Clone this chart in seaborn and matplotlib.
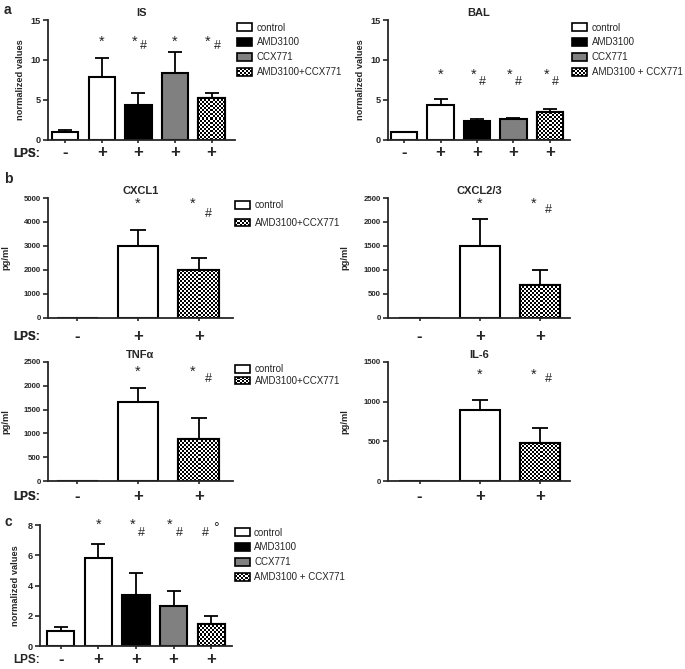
import numpy as np
import pandas as pd
import matplotlib
matplotlib.use('Agg')
import matplotlib.pyplot as plt
from matplotlib.patches import Patch, Rectangle
from matplotlib.legend_handler import HandlerBase
import seaborn as sns

sns.set_style('ticks')
plt.rcParams['font.family'] = ['Liberation Sans', 'DejaVu Sans']

# --- data ---
lps5 = ['-', '+', '+', '+', '+']
lps3 = ['-', '+', '+']
styles5 = ['control', 'control', 'AMD3100', 'CCX771', 'combo']
styles3 = ['control', 'control', 'combo']

is_mean = [1.0, 7.9, 4.4, 8.4, 5.3]
is_err = [0.2, 2.3, 1.5, 2.6, 0.6]
is_sig = ['', '*', '*#', '*', '*#']

bal_mean = [1.0, 4.4, 2.35, 2.55, 3.5]
bal_err = [0.0, 0.75, 0.3, 0.18, 0.4]
bal_sig = ['', '*', '*#', '*#', '*#']

cxcl1_mean = [0, 3000, 2000]
cxcl1_err = [0, 650, 480]
cxcl23_mean = [0, 1500, 690]
cxcl23_err = [0, 570, 305]
tnf_mean = [0, 1660, 890]
tnf_err = [0, 290, 440]
il6_mean = [0, 900, 475]
il6_err = [0, 125, 190]
b_sig = ['', '*', '*#']

c_mean = [1.0, 5.85, 3.4, 2.65, 1.5]
c_err = [0.25, 0.93, 1.43, 1.02, 0.47]
c_sig = ['', '*', '*#', '*#', '#°']

leg4_plain = ['control', 'AMD3100', 'CCX771', 'AMD3100+CCX771']
leg4_space = ['control', 'AMD3100', 'CCX771', 'AMD3100 + CCX771']
leg2 = ['control', 'AMD3100+CCX771']

fills = {'control': 'white', 'AMD3100': 'black', 'CCX771': '#808080', 'combo': 'white'}


class CheckerHandler(HandlerBase):
    def create_artists(self, legend, orig_handle, xdescent, ydescent,
                       width, height, fontsize, trans):
        arts = []
        nx, ny = 7, 4
        cw, ch = width / nx, height / ny
        for i in range(nx):
            for j in range(ny):
                if (i + j) % 2 == 0:
                    arts.append(Rectangle((-xdescent + i * cw, -ydescent + j * ch), cw, ch,
                                          facecolor='black', edgecolor='none', transform=trans))
        arts.append(Rectangle((-xdescent, -ydescent), width, height, facecolor='none',
                              edgecolor='black', lw=1.2, transform=trans))
        return arts


def checker(ax, patch, cell=2):
    x0, y0 = patch.get_x(), patch.get_y()
    w, h = patch.get_width(), patch.get_height()
    if h <= 0:
        return
    (px0, py0), (px1, py1) = ax.transData.transform([(x0, y0), (x0 + w, y0 + h)])
    nx = max(int(round(abs(px1 - px0) / cell)), 1)
    ny = max(int(round(abs(py1 - py0) / cell)), 1)
    board = np.indices((ny, nx)).sum(axis=0) % 2
    z = patch.get_zorder()
    im = ax.imshow(board, cmap='gray', vmin=0, vmax=1, extent=(x0, x0 + w, y0, y0 + h),
                   aspect='auto', interpolation='nearest', zorder=z + 0.1)
    im.set_clip_path(patch)
    ax.add_patch(Rectangle((x0, y0), w, h, fill=False, edgecolor='black', lw=1.5, zorder=z + 0.2))


def panel(ax, mean, err, styles, lps, sig, title, ylim, yticks, ylabel, xlim, width,
          star_y, hash_y, ylab_x, lps_dy, tick_size, cap, xpad, legend=None, leg_space=0.45):
    n = len(mean)
    sns.barplot(x=list(range(n)), y=mean, ax=ax, width=width, color='white',
                edgecolor='black', linewidth=1.5, errorbar=None)
    ax.set_xlim(*xlim)
    ax.set_ylim(*ylim)
    ax.set_yticks(yticks)
    ax.set_yticklabels([str(t) for t in yticks], fontsize=tick_size, fontweight='bold')
    ax.set_xticks(range(n))
    ax.set_xticklabels(lps, fontsize=12, fontweight='bold')
    ax.tick_params(axis='x', length=2.5, width=1.2, pad=xpad)
    ax.tick_params(axis='y', length=3.5, width=1.2, pad=1.5)
    ax.set_xlabel('')
    ax.set_ylabel(ylabel, fontsize=6.7, fontweight='bold')
    ax.yaxis.set_label_coords(ylab_x, 0.5)
    ax.set_title(title, fontsize=8, fontweight='bold', pad=3)
    sns.despine(ax=ax)
    for s in ['left', 'bottom']:
        ax.spines[s].set_linewidth(1.3)

    for p, st in zip(ax.patches[:n], styles):
        p.set_facecolor(fills[st])
    for p, st in zip(list(ax.patches[:n]), styles):
        if st == 'combo':
            checker(ax, p)

    idx = [i for i in range(n) if err[i] > 0]
    ax.errorbar(idx, [mean[i] for i in idx],
                yerr=[[0] * len(idx), [err[i] for i in idx]],
                fmt='none', ecolor='black', elinewidth=1.3, capsize=cap, capthick=1.3, zorder=3)

    for i, s in enumerate(sig):
        if s == '*':
            ax.text(i, star_y, '*', ha='center', va='center', fontsize=10.5)
        elif s == '*#':
            ax.text(i - 0.1, star_y, '*', ha='center', va='center', fontsize=10.5)
            ax.text(i + 0.15, hash_y, '#', ha='center', va='center', fontsize=9)
        elif s == '#°':
            ax.text(i - 0.15, hash_y, '#', ha='center', va='center', fontsize=9)
            ax.text(i + 0.12, star_y - (star_y - hash_y) * 0.3, '°', ha='center', va='center', fontsize=10)

    ax.annotate('LPS:', xy=(40 / 685, 0), xycoords=('figure fraction', 'axes fraction'),
                xytext=(0, -lps_dy * 0.72), textcoords='offset points',
                ha='right', va='center', fontsize=8.5, fontweight='bold')

    if legend is not None:
        handles = []
        hmap = {}
        for lab, st in legend:
            if st == 'combo':
                h = Patch(facecolor='white', edgecolor='black', label=lab)
                hmap[h] = CheckerHandler()
            else:
                h = Patch(facecolor=fills[st], edgecolor='black', linewidth=1.2, label=lab)
            handles.append(h)
        ax.legend(handles=handles, handler_map=hmap, loc='upper left', bbox_to_anchor=(1.0, 1.0),
                  frameon=False, fontsize=7, borderaxespad=0, borderpad=0.25,
                  handlelength=1.55, handleheight=0.85, handletextpad=0.45,
                  labelspacing=leg_space)


fig = plt.figure(figsize=(6.85, 6.69), dpi=100)

ax_is = fig.add_axes([0.070, 0.791, 0.273, 0.179])
ax_bal = fig.add_axes([0.566, 0.791, 0.266, 0.179])
ax_c1 = fig.add_axes([0.070, 0.525, 0.270, 0.179])
ax_c23 = fig.add_axes([0.566, 0.525, 0.266, 0.179])
ax_tnf = fig.add_axes([0.070, 0.281, 0.270, 0.178])
ax_il6 = fig.add_axes([0.566, 0.281, 0.266, 0.178])
ax_c = fig.add_axes([0.058, 0.034, 0.281, 0.181])

leg_a = list(zip(leg4_plain, ['control', 'AMD3100', 'CCX771', 'combo']))
leg_a2 = list(zip(leg4_space, ['control', 'AMD3100', 'CCX771', 'combo']))
leg_b = list(zip(leg2, ['control', 'combo']))

panel(ax_is, is_mean, is_err, styles5, lps5, is_sig, 'IS', (0, 15), [0, 5, 10, 15],
      'normalized values', (-0.47, 4.64), 0.72, 12.3, 11.7, -0.123, 14, 6.6, 4.7, 1.5,
      legend=leg_a, leg_space=0.5)
panel(ax_bal, bal_mean, bal_err, styles5, lps5, bal_sig, 'BAL', (0, 15), [0, 5, 10, 15],
      'normalized values', (-0.45, 4.55), 0.72, 8.1, 7.3, -0.126, 14, 6.6, 4.7, 1.5,
      legend=leg_a2, leg_space=0.5)
panel(ax_c1, cxcl1_mean, cxcl1_err, styles3, lps3, b_sig, 'CXCL1', (0, 5000),
      [0, 1000, 2000, 3000, 4000, 5000], 'pg/ml', (-0.48, 2.56), 0.67, 4760, 4350,
      -0.205, 19, 5.6, 6, 5.5, legend=leg_b, leg_space=0.75)
panel(ax_c23, cxcl23_mean, cxcl23_err, styles3, lps3, b_sig, 'CXCL2/3', (0, 2500),
      [0, 500, 1000, 1500, 2000, 2500], 'pg/ml', (-0.53, 2.5), 0.67, 2380, 2240,
      -0.209, 19, 5.6, 6, 5.5)
panel(ax_tnf, tnf_mean, tnf_err, styles3, lps3, b_sig, 'TNFα', (0, 2500),
      [0, 500, 1000, 1500, 2000, 2500], 'pg/ml', (-0.48, 2.56), 0.67, 2290, 2150,
      -0.205, 16, 5.6, 6, 3.5, legend=leg_b, leg_space=0.15)
panel(ax_il6, il6_mean, il6_err, styles3, lps3, b_sig, 'IL-6', (0, 1500),
      [0, 500, 1000, 1500], 'pg/ml', (-0.53, 2.5), 0.67, 1342, 1280,
      -0.209, 16, 5.6, 6, 3.5)
panel(ax_c, c_mean, c_err, styles5, lps5, c_sig, '', (0, 8), [0, 2, 4, 6, 8],
      'normalized values', (-0.56, 4.56), 0.72, 8.0, 7.45, -0.104, 14, 6.6, 4.7, 1.5,
      legend=leg_a2, leg_space=0.5)

fig.text(0.006, 0.995, 'a', fontsize=10, fontweight='bold', va='top')
fig.text(0.006, 0.743, 'b', fontsize=10, fontweight='bold', va='top')
fig.text(0.006, 0.230, 'c', fontsize=10, fontweight='bold', va='top')

fig.savefig('out.png', dpi=100)
